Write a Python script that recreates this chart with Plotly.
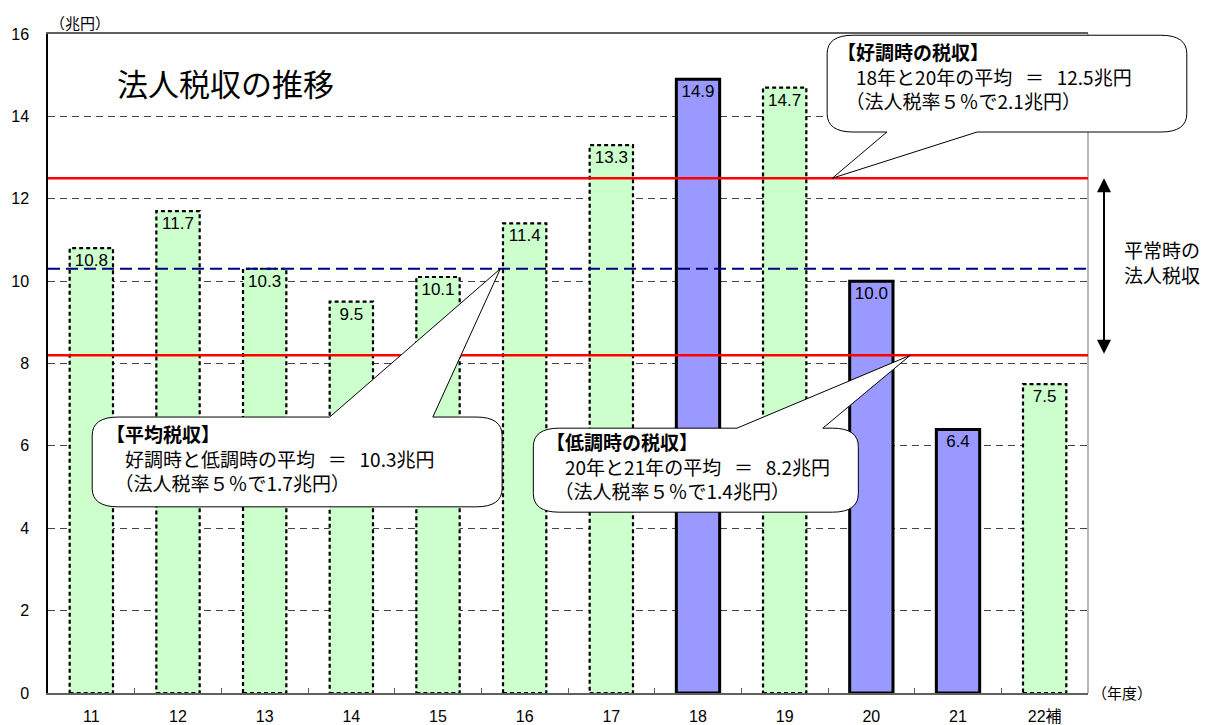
import plotly.graph_objects as go

# 法人税収（兆円）の年度別推移
years = ["11", "12", "13", "14", "15", "16", "17", "18", "19", "20", "21", "22補"]
tax_revenue = [10.8, 11.7, 10.3, 9.5, 10.1, 11.4, 13.3, 14.9, 14.7, 10.0, 6.4, 7.5]
# 好調時・低調時として扱う年度（青い棒）
cycle_years = ["18", "20", "21"]

# 参考線の値
high_avg = 12.5   # 18年と20年の平均
mid_avg = 10.3    # 好調時と低調時の平均
low_avg = 8.2     # 20年と21年の平均
high_rate5 = 2.1
mid_rate5 = 1.7
low_rate5 = 1.4

Y_TICKS = list(range(0, 17, 2))
Y_MAX = 16
N_CAT = len(years)
BAR_W = 0.5

JP = "Noto Sans CJK JP"
NUM = "Liberation Sans, Noto Sans CJK JP"

GREEN = "#CCFFCC"
BLUE = "#9999FF"

colors = [BLUE if y in cycle_years else GREEN for y in years]
edge_w = [3 if y in cycle_years else 0 for y in years]

fig = go.Figure()
fig.add_trace(go.Bar(
    x=years, y=tax_revenue, width=BAR_W,
    marker=dict(color=colors, line=dict(color="black", width=edge_w)),
    texttemplate="%{y:.1f}", textposition="inside", insidetextanchor="end",
    insidetextfont=dict(family=NUM, size=17, color="black"),
    textangle=0, constraintext="none", cliponaxis=False, hoverinfo="skip",
))


def px_(c):
    """category position -> paper x"""
    return (c + 0.5) / N_CAT


def py_(v):
    """value -> paper y"""
    return v / Y_MAX


shapes = []

# 緑の棒は点線の枠
for i, (yr, v) in enumerate(zip(years, tax_revenue)):
    if yr not in cycle_years:
        shapes.append(dict(type="rect", xref="x", yref="y",
                           x0=i - BAR_W / 2, x1=i + BAR_W / 2, y0=0, y1=v,
                           line=dict(color="black", width=2.2, dash="4px,3px"),
                           layer="above"))

# 右側の枠線
shapes.append(dict(type="line", xref="paper", yref="paper", x0=1, x1=1, y0=0, y1=1,
                   line=dict(color="#a0a0a0", width=1.5)))

# 好調時・低調時・平均の水平線
for val, col, dash, w in [(high_avg, "#FF0000", "solid", 2.5),
                          (low_avg, "#FF0000", "solid", 2.5),
                          (mid_avg, "#000080", "12px,6px", 2)]:
    shapes.append(dict(type="line", xref="paper", yref="y", x0=0, x1=1, y0=val, y1=val,
                       line=dict(color=col, width=w, dash=dash)))


def bubble(L, R, T, B, side, b1, b2, tip, rx=0.3, ry=0.45):
    """吹き出しの輪郭（角丸＋くちばし）を paper 座標のパスで返す"""
    X = px_
    Y = py_
    tx, ty = tip
    p = [f"M{X(L + rx)},{Y(T)}"]
    if side == "top":
        p += [f"L{X(b1)},{Y(T)}", f"L{X(tx)},{Y(ty)}", f"L{X(b2)},{Y(T)}"]
    p += [f"L{X(R - rx)},{Y(T)}",
          f"Q{X(R)},{Y(T)} {X(R)},{Y(T - ry)}",
          f"L{X(R)},{Y(B + ry)}",
          f"Q{X(R)},{Y(B)} {X(R - rx)},{Y(B)}"]
    if side == "bottom":
        p += [f"L{X(b2)},{Y(B)}", f"L{X(tx)},{Y(ty)}", f"L{X(b1)},{Y(B)}"]
    p += [f"L{X(L + rx)},{Y(B)}",
          f"Q{X(L)},{Y(B)} {X(L)},{Y(B + ry)}",
          f"L{X(L)},{Y(T - ry)}",
          f"Q{X(L)},{Y(T)} {X(L + rx)},{Y(T)}", "Z"]
    return dict(type="path", xref="paper", yref="paper", path=" ".join(p),
                fillcolor="white", line=dict(color="black", width=1), layer="above")


shapes.append(bubble(8.49, 12.64, 15.97, 13.62, "bottom", 9.18, 10.22, (8.55, high_avg)))
shapes.append(bubble(0.01, 4.74, 6.70, 4.52, "top", 2.75, 3.94, (4.72, mid_avg)))
shapes.append(bubble(5.10, 8.85, 6.43, 4.39, "top", 7.45, 8.44, (9.45, low_avg)))

ann = []


def label(text, c, v, size=19, anchor="left"):
    ann.append(dict(text=text, xref="paper", yref="paper", x=px_(c), y=py_(v),
                    xanchor=anchor, yanchor="middle", align=anchor, showarrow=False,
                    font=dict(family=JP, size=size, color="black")))


GAP = "&nbsp;" * 3


def callout_text(title, line1, line2):
    return (f"<b>{title}</b><br>　{line1}<br>&nbsp;&nbsp;{line2}")


# 吹き出しの文字
label(callout_text("【好調時の税収】",
                   f"18年と20年の平均{GAP}＝{GAP}{high_avg}兆円",
                   f"（法人税率５％で{high_rate5}兆円）"), 8.58, 14.99)
label(callout_text("【平均税収】",
                   f"好調時と低調時の平均{GAP}＝{GAP}{mid_avg}兆円",
                   f"（法人税率５％で{mid_rate5}兆円）"), 0.146, 5.71)
label(callout_text("【低調時の税収】",
                   f"20年と21年の平均{GAP}＝{GAP}{low_avg}兆円",
                   f"（法人税率５％で{low_rate5}兆円）"), 5.22, 5.51)

# 平常時の幅を示す両矢印
ann.append(dict(text="", xref="paper", yref="y", x=1.0154, y=high_avg,
                axref="pixel", ayref="y", ax=0, ay=low_avg,
                showarrow=True, arrowside="end+start", arrowhead=2, startarrowhead=2,
                arrowsize=1.4, startarrowsize=1.4, arrowwidth=2, arrowcolor="black",
                standoff=0, startstandoff=0))
label("平常時の<br>法人税収", 12.35, 10.46, size=19, anchor="center")

# 表題と単位
ann.append(dict(text="法人税収の推移", xref="paper", yref="paper", x=0.0644, y=0.927,
                xanchor="left", yanchor="middle", showarrow=False,
                font=dict(family=JP, size=31, color="black")))
ann.append(dict(text="（兆円）", xref="paper", yref="paper", x=0.031, y=1.018,
                xanchor="center", yanchor="middle", showarrow=False,
                font=dict(family=JP, size=15, color="black")))
ann.append(dict(text="（年度）", xref="paper", yref="paper", x=1.002, y=0.0015,
                xanchor="left", yanchor="middle", showarrow=False,
                font=dict(family=JP, size=15, color="black")))

fig.update_layout(
    width=1205, height=725,
    margin=dict(l=48, r=117, t=34, b=32),
    plot_bgcolor="white", paper_bgcolor="white",
    showlegend=False, bargap=0.5,
    shapes=shapes, annotations=ann,
    xaxis=dict(type="category", range=[-0.5, N_CAT - 0.5], automargin=False,
               tickson="boundaries", ticks="inside", ticklen=5, tickcolor="#606060",
               showline=True, linecolor="#606060", linewidth=2, mirror=True,
               showgrid=False, ticklabelstandoff=8,
               tickfont=dict(family=NUM, size=16, color="black")),
    yaxis=dict(range=[0, Y_MAX], tickvals=Y_TICKS, ticks="", automargin=False,
               showline=True, linecolor="black", linewidth=1.5,
               showgrid=True, gridcolor="#444444", gridwidth=1, griddash="7px,5px",
               zeroline=False, ticklabelstandoff=14,
               tickfont=dict(family=NUM, size=16, color="black")),
)

fig.write_html("out.html")
